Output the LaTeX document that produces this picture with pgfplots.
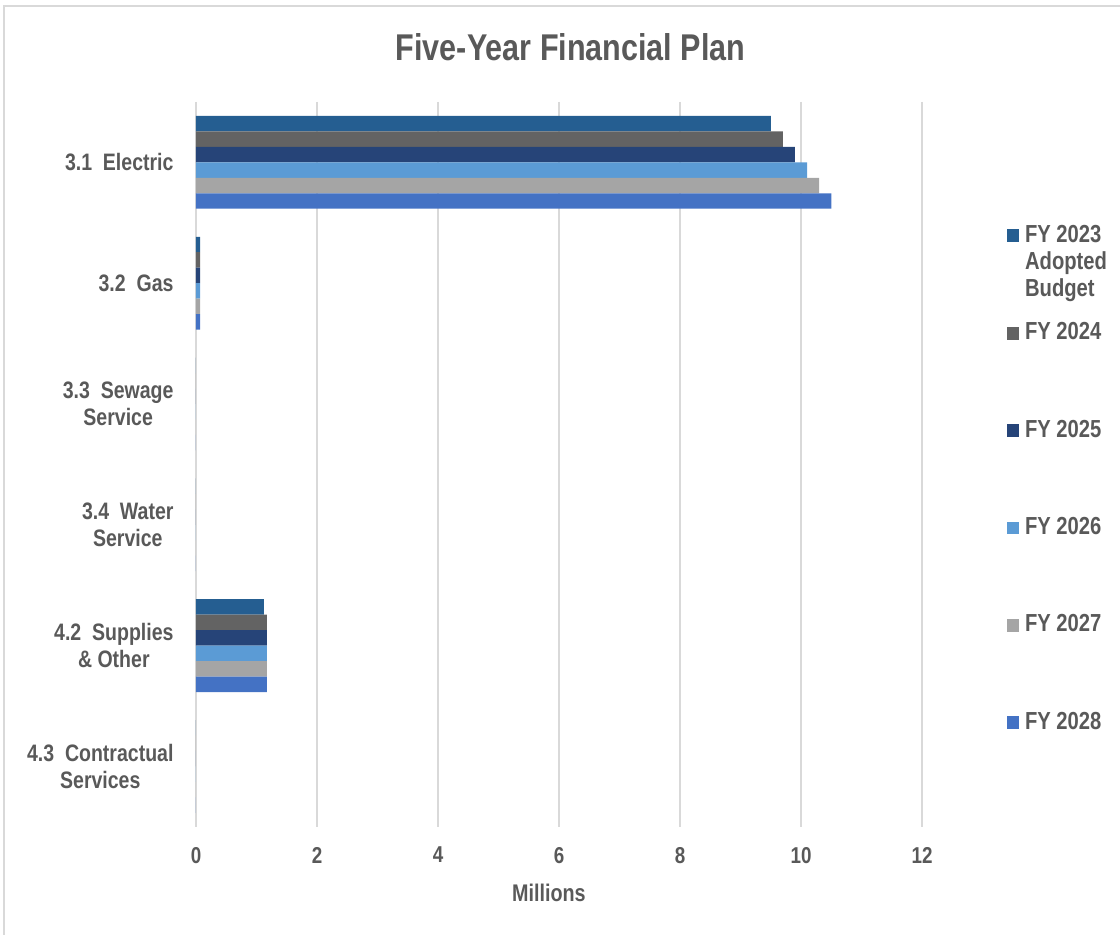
\documentclass[border=0pt]{standalone}
\usepackage{pgfplots}
\usepackage{pgfplotstable}
\pgfplotsset{compat=1.18}
\usepackage{fontspec}
\setmainfont{Liberation Sans}[FakeStretch=0.82]
\definecolor{c1}{HTML}{255E91}
\definecolor{c2}{HTML}{636363}
\definecolor{c3}{HTML}{264478}
\definecolor{c4}{HTML}{5B9BD5}
\definecolor{c5}{HTML}{A5A5A5}
\definecolor{c6}{HTML}{4472C4}
\definecolor{txt}{HTML}{595959}
\definecolor{gridc}{HTML}{D9D9D9}
\pgfplotstableread{
y a b c d e f
0 9.5 9.7 9.9 10.1 10.3 10.5
1 0.07 0.07 0.07 0.07 0.07 0.07
2 0 0 0 0 0 0
3 0 0 0 0 0 0
4 1.12 1.17 1.17 1.17 1.17 1.17
5 0 0 0 0 0 0
}\data
\begin{document}
\begin{tikzpicture}
\path[use as bounding box] (-70pt,-38.6pt) rectangle (330pt,295.3pt);
\draw[gridc, line width=0.75pt] (-68.6pt,-40pt) -- (-68.6pt,293.2pt) -- (332pt,293.2pt);
\begin{axis}[
  scale only axis, width=259.3pt, height=258.9pt,
  xbar=0pt, bar width=0.128,
  xmin=0, xmax=12, xtick={0,2,...,12},
  ymin=-0.5, ymax=5.5, y dir=reverse,
  ytick={0,...,5},
  yticklabels={{3.1\ \ Electric},{3.2\ \ Gas},{3.3\ \ Sewage\\Service},{3.4\ \ Water\\Service},{4.2\ \ Supplies\\\&\ Other},{4.3\ \ Contractual\\Services}},
  yticklabel style={align=center, font=\bfseries\fontsize{8.5}{9.7}\selectfont, text=txt, xshift=-4.5pt},
  xticklabel style={font=\bfseries\fontsize{8.2}{9.5}\selectfont, text=txt, yshift=-3.7pt},
  /pgf/number format/assume math mode=true,
  xmajorgrids, major grid style={draw=gridc, line width=0.8pt},
  axis line style={draw=none}, major tick length=0pt, tick style={draw=none},
  xlabel={Millions},
  xlabel style={at={(axis description cs:0.486,0)}, anchor=center, yshift=-23.6pt, font=\bfseries\fontsize{8.6}{10}\selectfont, text=txt},
  title={Five-Year Financial Plan},
  title style={at={(axis description cs:0.516,1)}, anchor=center, yshift=13.6pt, font=\bfseries\fontsize{13.3}{16}\selectfont, text=txt},
  legend image code/.code={\fill[#1] (0pt,-2.3pt) rectangle (4.6pt,2.3pt);},
  legend cell align=left,
  legend style={at={(1.1157,0.831)}, anchor=north west, draw=none, fill=none, inner sep=0pt,
    row sep=27.1pt, font=\bfseries\fontsize{8.8}{10}\selectfont, text=txt,
    nodes={inner sep=0pt}, /tikz/every odd column/.append style={column sep=2pt}},
]
\addplot[fill=c1, draw=none] table[x=a, y=y] {\data};
\addplot[fill=c2, draw=none] table[x=b, y=y] {\data};
\addplot[fill=c3, draw=none] table[x=c, y=y] {\data};
\addplot[fill=c4, draw=none] table[x=d, y=y] {\data};
\addplot[fill=c5, draw=none] table[x=e, y=y] {\data};
\addplot[fill=c6, draw=none] table[x=f, y=y] {\data};
\legend{{\raisebox{0pt}[6.3pt][0pt]{\begin{tabular}[t]{@{}l@{}}FY 2023\\[-0.3pt]Adopted\\[-0.3pt]Budget\end{tabular}}},FY 2024,FY 2025,FY 2026,FY 2027,FY 2028}
\end{axis}
\end{tikzpicture}
\end{document}
